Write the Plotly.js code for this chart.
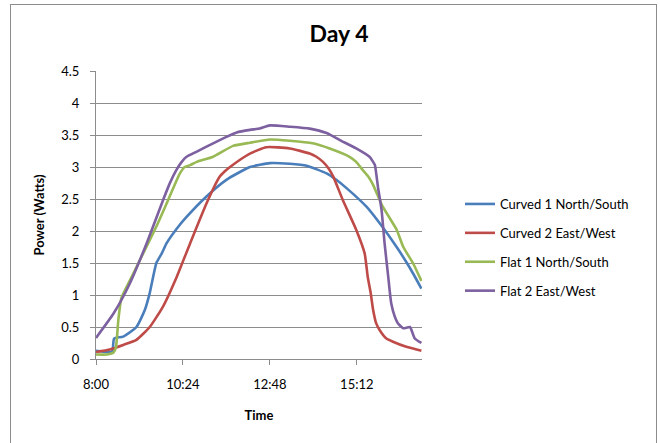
<!DOCTYPE html>
<html>
<head>
<meta charset="utf-8">
<script src="https://cdn.plot.ly/plotly-3.0.1.min.js"></script>
<style>
html,body{margin:0;padding:0;background:#fff;}
#wrap{position:relative;width:660px;height:443px;overflow:hidden;}
#chart{width:660px;height:443px;}
#frame{position:absolute;left:10px;top:4px;width:647px;height:470px;border:1px solid #8c8c8c;box-sizing:border-box;pointer-events:none;}
</style>
</head>
<body>
<div id="wrap"><div id="chart"></div><div id="frame"></div></div>
<script>
const seriesNames = ["Curved 1 North/South", "Curved 2 East/West", "Flat 1 North/South", "Flat 2 East/West"];
const seriesColors = ["#4A7EBB", "#BE4B48", "#98B954", "#7D60A0"];

const curved1Times = ["08:00","08:18","08:27","08:30","08:45","09:07","09:21","09:29","09:40","09:49","09:57","10:14","10:30","11:03","11:36","12:15","12:48","13:21","13:49","14:22","14:38","14:55","15:28","15:50","16:18","16:35","16:45","16:59"];
const curved1Power = [0.13,0.11,0.12,0.32,0.35,0.50,0.77,1.03,1.50,1.65,1.81,2.04,2.22,2.54,2.80,3.00,3.06,3.05,3.02,2.90,2.80,2.67,2.38,2.12,1.75,1.50,1.34,1.10];

const curved2Times = ["08:00","08:23","08:45","09:07","09:29","09:51","10:14","10:36","11:03","11:25","11:33","11:42","11:58","12:15","12:42","13:21","13:54","14:05","14:16","14:25","14:33","14:49","15:11","15:25","15:30","15:35","15:39","15:44","15:50","16:01","16:12","16:34","16:59"];
const curved2Power = [0.11,0.15,0.22,0.30,0.50,0.82,1.29,1.81,2.43,2.85,2.93,3.00,3.11,3.21,3.31,3.29,3.21,3.16,3.08,2.98,2.85,2.48,2.02,1.65,1.29,1.03,0.77,0.56,0.45,0.32,0.27,0.19,0.13];

const flat1Times = ["08:00","08:18","08:29","08:33","08:37","08:42","08:51","09:13","09:40","09:57","10:19","10:27","10:36","10:47","11:14","11:47","12:15","12:48","13:21","13:59","14:27","15:00","15:11","15:22","15:31","15:39","15:55","16:18","16:29","16:45","16:59"];
const flat1Power = [0.07,0.07,0.10,0.18,0.61,0.95,1.13,1.55,2.07,2.43,2.90,3.00,3.03,3.08,3.16,3.33,3.38,3.43,3.41,3.37,3.29,3.16,3.08,2.95,2.85,2.72,2.38,2.02,1.75,1.50,1.22];

const flat2Times = ["08:00","08:29","08:56","09:24","09:51","10:02","10:13","10:22","10:30","10:47","11:14","11:36","11:53","12:15","12:31","12:48","13:21","13:54","14:22","14:44","15:11","15:33","15:39","15:42","15:47","15:53","15:58","16:04","16:09","16:15","16:20","16:29","16:40","16:48","16:59"];
const flat2Power = [0.33,0.71,1.18,1.81,2.48,2.74,2.95,3.08,3.16,3.24,3.37,3.47,3.54,3.58,3.60,3.65,3.63,3.60,3.53,3.42,3.29,3.16,3.08,3.03,2.69,2.33,1.81,1.29,0.87,0.66,0.56,0.48,0.50,0.32,0.25];

const xTickTimes = ["08:00","10:24","12:48","15:12"];
const xTickLabels = ["8:00","10:24","12:48","15:12"];
const yTickValues = [0,0.5,1,1.5,2,2.5,3,3.5,4,4.5];
const yTickLabels = ["0","0.5","1","1.5","2","2.5","3","3.5","4","4.5"];

const day = "2000-01-01 ";
const toDate = t => day + t;

const allTimes = [curved1Times, curved2Times, flat1Times, flat2Times];
const allPower = [curved1Power, curved2Power, flat1Power, flat2Power];

const font = "Lato, 'Open Sans', sans-serif";

const traces = seriesNames.map((n, i) => ({
  type: "scatter",
  mode: "lines",
  name: n,
  legendgroup: "g" + i,
  x: allTimes[i].map(toDate),
  y: allPower[i],
  line: {color: seriesColors[i], width: 2.6, shape: "spline", smoothing: 0.5},
  hoverinfo: "skip"
}));

const layout = {
  width: 660, height: 443,
  margin: {l: 96, r: 238, t: 71, b: 84},
  paper_bgcolor: "#fff", plot_bgcolor: "#fff",
  showlegend: true,
  title: {text: "<b>Day 4</b>", font: {family: font, size: 23, color: "#000"}, x: 339/660, xanchor: "center", y: 1 - 34/443, yanchor: "middle"},
  xaxis: {
    type: "date",
    range: [toDate("08:00"), toDate("17:00")],
    tickvals: xTickTimes.map(toDate),
    ticktext: xTickLabels,
    ticks: "outside", ticklen: 5, tickcolor: "#8c8c8c",
    ticklabelstandoff: 8,
    showline: true, linecolor: "#8c8c8c", linewidth: 1,
    showgrid: false, zeroline: false,
    tickfont: {family: font, size: 13, color: "#000"},
    title: {text: "<b>Time</b>", font: {family: font, size: 13, color: "#000"}, standoff: 20}
  },
  yaxis: {
    range: [0, 4.5],
    tickvals: yTickValues,
    ticktext: yTickLabels,
    ticks: "outside", ticklen: 5, tickcolor: "#8c8c8c",
    ticklabelstandoff: 8,
    showline: true, linecolor: "#8c8c8c", linewidth: 1,
    showgrid: true, gridcolor: "#8c8c8c", gridwidth: 1,
    zeroline: false,
    tickfont: {family: font, size: 13, color: "#000"},
    title: {text: "<b>Power (Watts)</b>", font: {family: font, size: 13, color: "#000"}, standoff: 13}
  },
  legend: {
    x: (460 - 96) / 326, xanchor: "left",
    y: 1 - (189 - 71) / 288, yanchor: "top",
    font: {family: font, size: 13, color: "#000"},
    tracegroupgap: 9,
    bgcolor: "rgba(0,0,0,0)",
    itemwidth: 30
  }
};

Plotly.newPlot("chart", traces, layout, {displayModeBar: false, staticPlot: true});
</script>
</body>
</html>
